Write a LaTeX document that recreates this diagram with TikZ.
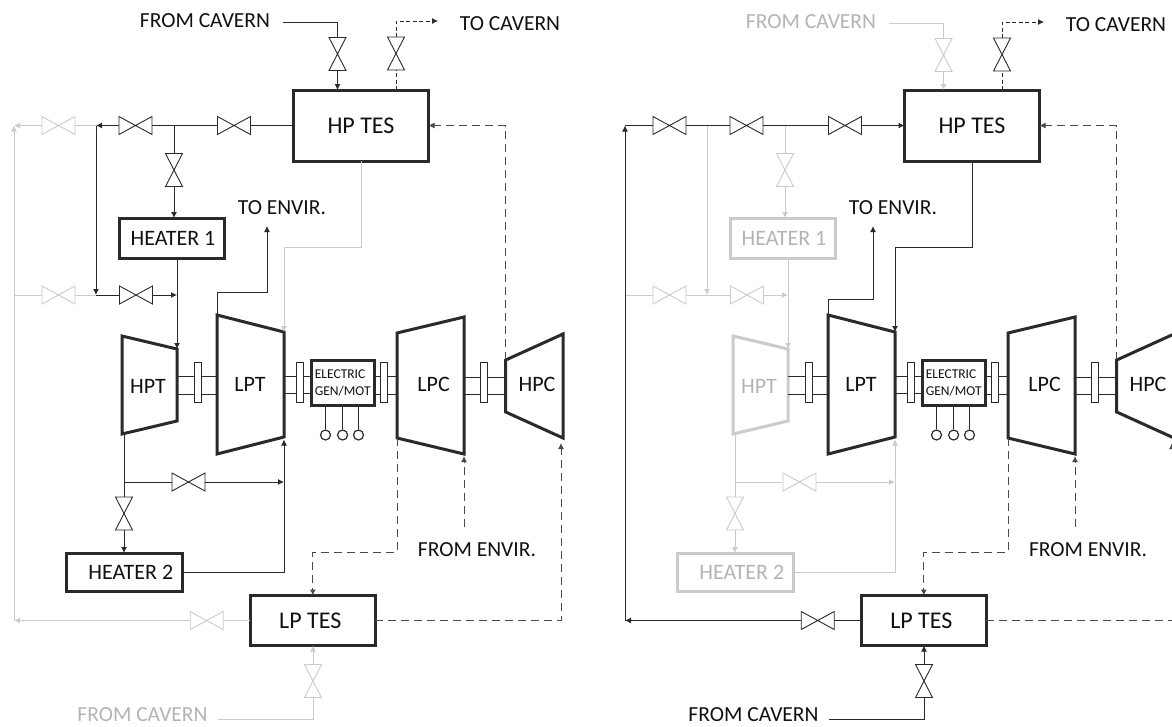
\documentclass[tikz,border=0pt]{standalone}
\usepackage{fontspec}
\setmainfont{Carlito}
\usepackage{xcolor}
\usetikzlibrary{arrows.meta}
\definecolor{active}{HTML}{2A2A2A}
\definecolor{idle}{HTML}{CBCBCB}
\definecolor{activetxt}{HTML}{111111}
\definecolor{idletxt}{HTML}{B4B4B4}

\begin{document}
\begin{tikzpicture}[
  x=1pt, y=-1pt,
  >={Latex[length=6pt,width=6pt]},
  pipe/.style={line width=1pt},
  dashpipe/.style={line width=1pt, draw=active!85, dash pattern=on 8pt off 5pt},
  thinpipe/.style={line width=0.8pt, draw=active, dash pattern=on 4pt off 2.5pt},
  unit/.style={draw, line width=3pt, inner sep=0pt, outer sep=0pt, font=\fontsize{22}{24}\selectfont},
  tes/.style={unit, draw=active, text=activetxt, font=\fontsize{24}{26}\selectfont},
  caption/.style={font=\fontsize{21.5}{24}\selectfont, inner sep=0pt},
  hvalve/.style={minimum width=33pt, minimum height=18pt, inner sep=0pt, outer sep=0pt},
  vvalve/.style={minimum width=17pt, minimum height=33pt, inner sep=0pt, outer sep=0pt},
  valveline/.style={line width=0.9pt, line join=miter},
  flange/.style={draw=active, fill=white, line width=0.9pt, minimum width=7pt, minimum height=40pt, inner sep=0pt},
  terminal/.style={circle, draw=active, line width=1.2pt, minimum size=10pt, inner sep=0pt},
]
\useasboundingbox (0,0) rectangle (1172,726);
\clip (0,0) rectangle (1172,726);
\fill[white] (0,0) rectangle (1172,726);

% One panel per loop turn. \hotc runs the heater side, \coldc the side fed from LP TES.
\foreach \p/\dx/\topdx/\topdy/\hotc/\coldc/\hott/\coldt/\tipl/\tipr/\envx/\envy in {%
  L/0/0/0/active/idle/activetxt/idletxt/->/-/267/292,
  R/611/-5/1/idle/active/idletxt/activetxt/-/->/262/299%
} {
\begin{scope}[shift={(\dx,0)}]

% --- Storage and heaters
\node[tes, minimum width=135pt, minimum height=71pt] (hptes\p) at (361,125.5) {HP TES};
\node[tes, minimum width=125pt, minimum height=50pt] (lptes\p) at (312.8,620.5) {\hspace{-5pt}LP TES};
\node[unit, draw=\hotc, text=\hott, minimum width=105pt, minimum height=40pt] (heaterone\p) at (171.5,238) {\hspace{3pt}\raisebox{-2pt}{HEATER 1}};
\node[unit, draw=\hotc, text=\hott, minimum width=116pt, minimum height=38pt] (heatertwo\p) at (124.3,572) {\hspace{13pt}HEATER 2};
\node[unit, draw=active, text=activetxt, minimum width=63pt, minimum height=45pt, align=left, font=\fontsize{13.5}{17}\selectfont] (gen\p) at (342.7,382.5) {ELECTRIC\\GEN/MOT};

% --- Machines: name/label/text/colour/label x,y/top left/top right/bottom right/bottom left
\foreach \m/\lbl/\tc/\c/\lx/\ly/\xa/\ya/\xb/\yb/\yc/\yd in {%
  hpt/HPT/\hott/\hotc/148/386/122/336/177/349/421/434,
  lpt/LPT/activetxt/active/250/384/217/315/284/332/437/454,
  lpc/LPC/activetxt/active/433.6/384/397/333/464/317/454/438,
  hpc/HPC/activetxt/active/537/384/505.7/360/563/334/438/412%
} {
  \coordinate (\m\p-tl) at (\xa,\ya);
  \coordinate (\m\p-tr) at (\xb,\yb);
  \coordinate (\m\p-br) at (\xb,\yc);
  \coordinate (\m\p-bl) at (\xa,\yd);
  \draw[draw=\c, line width=3pt] (\m\p-tl) -- (\m\p-tr) -- (\m\p-br) -- (\m\p-bl) -- cycle;
  \node[caption, font=\fontsize{22}{24}\selectfont, text=\tc] (\m\p) at (\lx,\ly) {\lbl};
}

% --- Shafts with their flanges
\foreach \i/\xa/\xb/\fx/\ya/\yb in {%
  a/177/217/198/376/394,
  b/284/310/300.2/376/393,
  c/375.5/397/384.2/376/394,
  d/464/505.7/484.3/377/394%
} {
  \draw[draw=active, pipe] (\xa,\ya) -- (\xb,\ya) (\xa,\yb) -- (\xb,\yb);
  \node[flange] (flange\i\p) at (\fx,382.8) {};
}

% --- Generator terminals
\foreach \i/\tx in {1/325.5, 2/342.6, 3/358.5} {
  \node[terminal] (term\i\p) at (\tx,435) {};
  \draw[draw=active, pipe] (term\i\p.north |- gen\p.south) -- (term\i\p.north);
}

% --- Valves
\foreach \v/\vx/\vy/\c in {rowa/58.5/125.5/\coldc, rowb/135.5/125.5/active, rowc/234/125.5/active,
                           lowa/58.5/295/idle, lowb/136/295/\hotc,
                           branch/188.5/482/\hotc, lpout/206.7/620.5/\coldc} {
  \node[hvalve] (\v\p) at (\vx,\vy) {};
  \draw[draw=\c, valveline] (\v\p.north west) -- (\v\p.south east) -- (\v\p.north east) -- (\v\p.south west) -- cycle;
}
\foreach \v/\vx/\vy/\c in {heatin/174/170/\hotc, heatlow/124/513.5/\hotc, lpin/313/681/\coldc} {
  \node[vvalve] (\v\p) at (\vx,\vy) {};
  \draw[draw=\c, valveline] (\v\p.north west) -- (\v\p.south east) -- (\v\p.south west) -- (\v\p.north east) -- cycle;
}

% --- Free ends and knees
\coordinate (outertop\p) at (14,125.5);
\coordinate (outermid\p) at (14,295);
\coordinate (outerbot\p) at (14,620.5);
\coordinate (teeleft\p) at (96,125.5);
\coordinate (teelow\p) at (96,295);
\coordinate (teeheat\p) at (174,125.5);
\coordinate (teebranch\p) at (124,482);
\coordinate (lptknee\p) at (284,247);
\coordinate (envknee\p) at (\envx,\envy);
\coordinate (envtip\p) at (\envx,226);
\coordinate (hpctip\p) at (561,443);
\coordinate (envstart\p) at (464,527);
\coordinate (lowstart\p) at (218,719);

% --- Pipes that change with the mode
\draw[draw=idle, pipe] (outermid\p) -- (lowa\p.west);
\draw[draw=idle, pipe] (lowa\p.east) -- (teelow\p);
\draw[draw=\hotc, pipe, ->] (lowb\p.east) -- (lowb\p.east -| hpt\p-tr);
\draw[draw=\hotc, pipe] (teelow\p) -- (lowb\p.west);
\draw[draw=\hotc, pipe, ->] (teeleft\p) -- (teelow\p);
\draw[draw=\hotc, pipe] (teeheat\p) -- (heatin\p.north);
\draw[draw=\hotc, pipe, ->] (heatin\p.south) -- (heatin\p.south |- heaterone\p.north);
\draw[draw=\hotc, pipe, ->] (heaterone\p.south -| hpt\p-tr) -- (hpt\p-tr);
\draw[draw=\hotc, pipe] (hpt\p-bl -| heatlow\p.north) -- (heatlow\p.north);
\draw[draw=\hotc, pipe, ->] (heatlow\p.south) -- (heatlow\p.south |- heatertwo\p.north);
\draw[draw=\hotc, pipe] (teebranch\p) -- (branch\p.west);
\draw[draw=\hotc, pipe, ->] (branch\p.east) -- (branch\p.east -| lpt\p-br);
\draw[draw=\hotc, pipe, ->, shorten >=2.5pt] (heatertwo\p.east) -| (lpt\p-br);
\draw[draw=\coldc, pipe, ->] (hptes\p.south) |- (lptknee\p) -- (lpt\p-tr);
\draw[draw=\coldc, pipe, \tipl] (rowa\p.west) -- (outertop\p);
\draw[draw=\coldc, pipe] (teeleft\p) -- (rowa\p.east);
\draw[draw=\coldc, pipe, ->] (outerbot\p) -- (outertop\p);
\draw[draw=\coldc, pipe] (lptes\p.west) -- (lpout\p.east);
\draw[draw=\coldc, pipe, ->] (lpout\p.west) -- (outerbot\p);
\draw[draw=\coldc, pipe] (lowstart\p) -| (lpin\p.south);
\draw[draw=\coldc, pipe, ->] (lpin\p.north) -- (lpin\p.north |- lptes\p.south);

% --- Pipes that stay
\draw[draw=active, pipe, \tipr] (rowc\p.east) -- (hptes\p.west);
\draw[draw=active, pipe] (rowc\p.west) -- (rowb\p.east);
\draw[draw=active, pipe, \tipl] (rowb\p.west) -- (teeleft\p);
\draw[draw=active, pipe, ->] (lpt\p-tl) |- (envknee\p) -- (envtip\p);

% --- Dashed lines
\draw[dashpipe, ->] (hpc\p-tl) |- (hptes\p.east);
\draw[dashpipe, ->] (lpc\p-bl) -- ++(0,114) -| (lptes\p.north);
\draw[dashpipe, ->] (lptes\p.east) -| (hpctip\p);
\draw[dashpipe, ->, shorten >=2pt] (envstart\p) -- (lpc\p-br);

% --- Inlet and outlet on top of HP TES sit a little apart in each panel
\begin{scope}[shift={(\topdx,\topdy)}]
  \foreach \v/\vx/\vy/\c in {topin/337.5/54/\hotc, topout/396/53.5/active} {
    \node[vvalve] (\v\p) at (\vx,\vy) {};
    \draw[draw=\c, valveline] (\v\p.north west) -- (\v\p.south east) -- (\v\p.south west) -- (\v\p.north east) -- cycle;
  }
  \coordinate (topstart\p) at (283,22);
  \coordinate (toptip\p) at (438,21);
  \node[caption, text=\hott] (fromcaverntop\p) at (205,21) {FROM CAVERN};
  \node[caption, text=activetxt] (tocavern\p) at (510,24) {TO CAVERN};
\end{scope}
\draw[draw=\hotc, pipe] (topstart\p) -| (topin\p.north);
\draw[draw=\hotc, pipe, ->] (topin\p.south) -- (topin\p.south |- hptes\p.north);
\draw[thinpipe] (topout\p.south |- hptes\p.north) -- (topout\p.south);
\draw[thinpipe, ->] (topout\p.north) |- (toptip\p);

% --- Captions
\node[caption, text=activetxt] (toenvir\p) at (282,208) {TO ENVIR.};
\node[caption, text=activetxt] (fromenvir\p) at (477,550) {FROM ENVIR.};
\node[caption, text=\coldt] (fromcavernlow\p) at (142.5,714.5) {FROM CAVERN};

\end{scope}
}
\end{tikzpicture}
\end{document}
